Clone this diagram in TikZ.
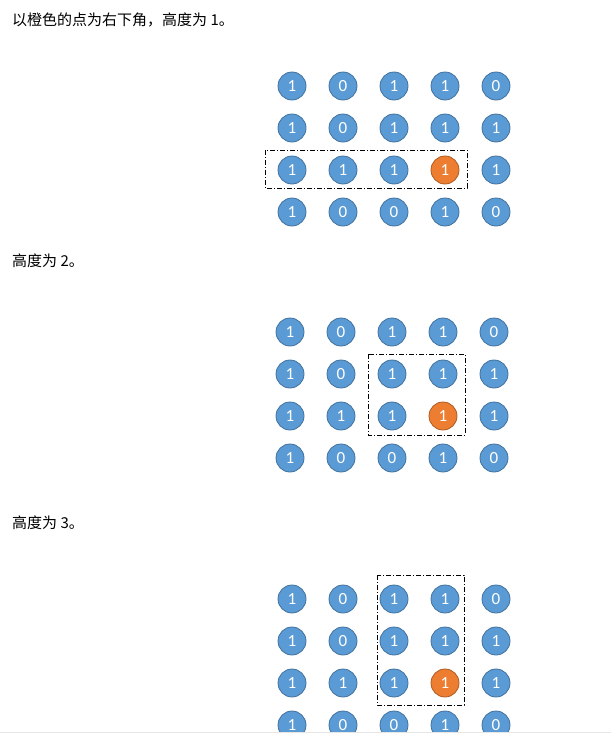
\documentclass[tikz,border=0pt]{standalone}
\usepackage{fontspec}
\setmainfont{Carlito}
\newfontfamily\cjk{Noto Sans CJK SC}

\definecolor{cellblue}{HTML}{5B9BD5}
\definecolor{cellblueline}{HTML}{41719C}
\definecolor{cellorange}{HTML}{ED7D31}
\definecolor{cellorangeline}{HTML}{AE5A21}
\definecolor{pageline}{HTML}{E6E6E6}

\tikzset{
    cell/.style={circle, fill=cellblue, draw=cellblueline, line width=0.8pt,
        minimum size=28pt, inner sep=0pt, text=white,
        font=\fontsize{17}{17}\selectfont},
    corner/.style={cell, fill=cellorange, draw=cellorangeline},
    window/.style={draw, line width=0.8pt,
        dash pattern=on 5pt off 2pt on 1pt off 2pt},
    caption/.style={anchor=west, inner sep=0pt,
        font=\cjk\fontsize{15}{15}\selectfont}
}

% 4x5 grid of bits, orange cell at row 3, column 4
\newcommand{\bitgrid}[3]{%
    \foreach \r/\row in {1/{1,0,1,1,0}, 2/{1,0,1,1,1}, 3/{1,1,1,1,1}, 4/{1,0,0,1,0}}
    {
        \foreach \b [count=\c] in \row
        {
            \def\kind{cell}
            \ifnum\r=3 \ifnum\c=4 \def\kind{corner}\fi\fi
            \node[\kind] (#1-\r-\c) at ({#2+(\c-1)*51},{#3+(\r-1)*42}) {\b};
        }
    }
}

\begin{document}
\begin{tikzpicture}[x=1pt, y=-1pt]

    \useasboundingbox (0,0) rectangle (611,736);

    % Captions
    \node[caption] (cap1) at (12,20) {以橙色的点为右下角，高度为 1。};
    \node[caption] (cap2) at (12,261) {高度为 2。};
    \node[caption] (cap3) at (12,523) {高度为 3。};

    \begin{scope}
        \clip (0,0) rectangle (611,732);

        % Height 1
        \bitgrid{a}{292}{86}
        \draw[window] (265,150) rectangle (467,188);

        % Height 2
        \bitgrid{b}{290}{332}
        \draw[window] (368,354) rectangle (465,435);

        % Height 3
        \bitgrid{c}{292}{599}
        \draw[window] (377,575) rectangle (464,705);
    \end{scope}

    % Page edge
    \draw[pageline] (0,732.5) -- (611,732.5);

\end{tikzpicture}
\end{document}
